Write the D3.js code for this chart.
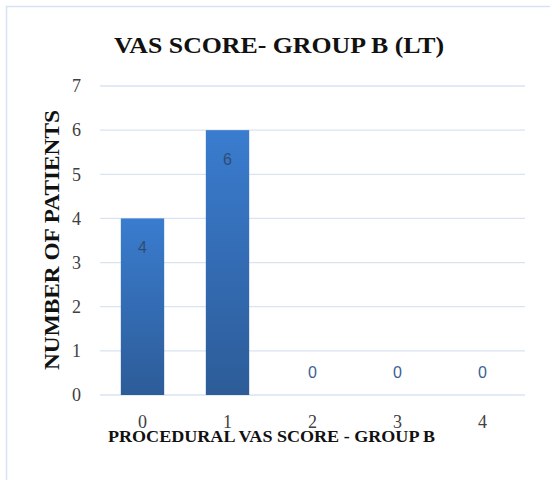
<!DOCTYPE html>
<html>
<head>
<meta charset="utf-8">
<script src="https://cdn.jsdelivr.net/npm/d3@7"></script>
<style>
  body { margin: 0; background: #fff; }
  .serif { font-family: 'Liberation Serif', 'Times New Roman', serif; }
  .sans { font-family: 'Liberation Sans', Arial, sans-serif; }
</style>
</head>
<body>
<svg id="chart" width="550" height="480"></svg>
<script>
// chart data
var scores = ["0", "1", "2", "3", "4"]
var patients = [4, 6, 0, 0, 0]
var yTicks = [0, 1, 2, 3, 4, 5, 6, 7]

var titleText = "VAS SCORE- GROUP B (LT)"
var xTitle = "PROCEDURAL VAS SCORE - GROUP B"
var yTitle = "NUMBER OF PATIENTS"

let svgWidth = 550
let svgHeight = 480
let margin = {top: 86, right: 25, bottom: 85, left: 100}
let width = svgWidth - margin.left - margin.right
let height = svgHeight - margin.top - margin.bottom

var svg = d3.select("#chart")

// outer frame (only top/left visible, rest runs off the picture)
svg.append("rect")
    .attr("x", 6.5).attr("y", 6.5)
    .attr("width", 560).attr("height", 500)
    .attr("fill", "none")
    .attr("stroke", "#d6e3f3")
    .attr("stroke-width", 1.5)

var defs = svg.append("defs")
var grad = defs.append("linearGradient")
    .attr("id", "barGrad")
    .attr("x1", 0).attr("y1", 0).attr("x2", 0).attr("y2", 1)
grad.append("stop").attr("offset", "0%").attr("stop-color", "#3a7ccf")
grad.append("stop").attr("offset", "100%").attr("stop-color", "#2d5c98")

var chart = svg.append("g")
    .attr("transform", "translate(" + margin.left + "," + margin.top + ")")

var xScale = d3.scaleBand().domain(scores).range([0, width]).paddingInner(0.49).paddingOuter(0.245)
var yScale = d3.scaleLinear().domain([0, 7]).range([height, 0])

// gridlines
chart.selectAll("line.grid")
    .data(yTicks)
    .enter()
    .append("line")
    .attr("class", "grid")
    .attr("x1", 0).attr("x2", width)
    .attr("y1", d => yScale(d)).attr("y2", d => yScale(d))
    .attr("stroke", "#d9e4f2")
    .attr("stroke-width", 1.3)

// y axis labels
var yAxis = d3.axisLeft(yScale).tickValues(yTicks).tickFormat(d3.format("d")).tickSize(0).tickPadding(19)
chart.append("g")
    .attr("class", "y axis")
    .call(yAxis)
    .call(g => g.select(".domain").remove())
    .selectAll("text")
        .attr("class", "serif")
        .style("font-size", "18px")
        .attr("fill", "#404040")

// x axis labels - they sit low and touch the axis title, like the original
var xAxis = d3.axisBottom(xScale).tickSize(0).tickPadding(20)
chart.append("g")
    .attr("class", "x axis")
    .attr("transform", "translate(0," + height + ")")
    .call(xAxis)
    .call(g => g.select(".domain").remove())
    .selectAll("text")
        .attr("class", "serif")
        .style("font-size", "18px")
        .attr("fill", "#404040")

// bars
chart.selectAll("rect.bar")
    .data(patients)
    .enter()
    .append("rect")
    .attr("class", "bar")
    .attr("x", (d, i) => xScale(scores[i]))
    .attr("y", d => yScale(d))
    .attr("width", xScale.bandwidth())
    .attr("height", d => height - yScale(d))
    .attr("fill", "url(#barGrad)")

// value labels
chart.selectAll("text.val")
    .data(patients)
    .enter()
    .append("text")
    .attr("class", "val sans")
    .attr("x", (d, i) => xScale(scores[i]) + xScale.bandwidth() / 2)
    .attr("y", d => d > 0 ? yScale(d) + 35 : yScale(d) - 17)
    .attr("text-anchor", "middle")
    .style("font-size", "16px")
    .attr("fill", d => d > 0 ? "#2f4d74" : "#3a5f94")
    .text(d => d)

// title
svg.append("text")
    .attr("class", "serif")
    .attr("x", 114)
    .attr("y", 53)
    .attr("textLength", 330)
    .attr("lengthAdjust", "spacingAndGlyphs")
    .style("font-weight", "bold")
    .style("font-size", "23px")
    .attr("fill", "#111")
    .text(titleText)

// x title
svg.append("text")
    .attr("class", "serif")
    .attr("x", 108)
    .attr("y", 442)
    .attr("textLength", 327)
    .attr("lengthAdjust", "spacingAndGlyphs")
    .style("font-weight", "bold")
    .style("font-size", "17px")
    .attr("fill", "#111")
    .text(xTitle)

// y title
svg.append("text")
    .attr("class", "serif")
    .attr("transform", "translate(59,370) rotate(-90)")
    .attr("textLength", 260)
    .attr("lengthAdjust", "spacingAndGlyphs")
    .style("font-weight", "bold")
    .style("font-size", "21px")
    .attr("fill", "#111")
    .text(yTitle)
</script>
</body>
</html>
